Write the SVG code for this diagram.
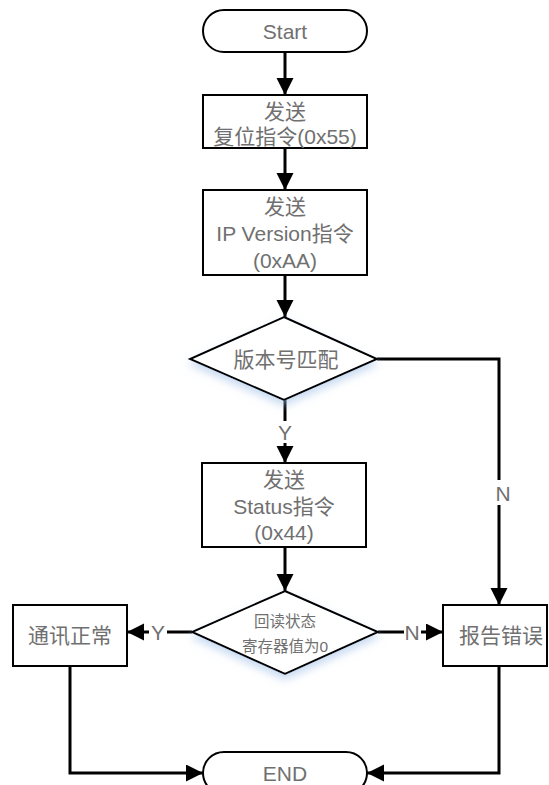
<svg xmlns="http://www.w3.org/2000/svg" width="549" height="785" viewBox="0 0 549 785">
<style>
.s{fill:#fff;stroke:#000;stroke-width:2}
.c{fill:none;stroke:#000;stroke-width:3}
.t{font-family:"Liberation Sans","Noto Sans CJK SC",sans-serif;fill:#707070;text-anchor:middle;dominant-baseline:central;font-size:21px}
.sm{font-size:15.5px}
.lbl{fill:#fff}
</style>
<defs>
<marker id="ah" markerUnits="userSpaceOnUse" markerWidth="18" markerHeight="18" refX="17" refY="8.5" orient="auto">
<path d="M0,0 L17,8.5 L0,17 z" fill="#000"/>
</marker>
<filter id="sh" x="-20%" y="-20%" width="140%" height="150%">
<feGaussianBlur in="SourceAlpha" stdDeviation="4"/>
<feOffset dy="5" result="b"/>
<feFlood flood-color="#9dbde6" flood-opacity="0.55"/>
<feComposite in2="b" operator="in"/>
<feMerge><feMergeNode/><feMergeNode in="SourceGraphic"/></feMerge>
</filter>
</defs>
<g id="connectors">
<path class="c" d="M285,52 V95" marker-end="url(#ah)"/>
<path class="c" d="M285,148 V190" marker-end="url(#ah)"/>
<path class="c" d="M285,275 V317" marker-end="url(#ah)"/>
<path class="c" d="M377,359 H499 V605" marker-end="url(#ah)"/>
<path class="c" d="M285,400 V463" marker-end="url(#ah)"/>
<path class="c" d="M285,547 V591" marker-end="url(#ah)"/>
<path class="c" d="M192,632 H127" marker-end="url(#ah)"/>
<path class="c" d="M378,632 H443" marker-end="url(#ah)"/>
<path class="c" d="M70,666 V773 H203" marker-end="url(#ah)"/>
<path class="c" d="M499,666 V773 H367" marker-end="url(#ah)"/>
<rect class="lbl" x="492" y="480" width="20" height="25"/>
<text class="t" x="503" y="493">N</text>
<rect class="lbl" x="276" y="421" width="19" height="22"/>
<text class="t" x="285" y="432">Y</text>
<rect class="lbl" x="149" y="622" width="18" height="20"/>
<text class="t" x="158" y="632">Y</text>
<rect class="lbl" x="404" y="622" width="17" height="20"/>
<text class="t" x="412" y="632">N</text>
</g>
<g id="start">
<rect class="s" x="203" y="10" width="164" height="42" rx="21"/>
<text class="t" x="285" y="31">Start</text>
</g>
<g id="reset">
<rect class="s" x="203" y="95" width="164" height="53"/>
<text class="t" x="285" y="111">发送</text>
<text class="t" x="285" y="136">复位指令(0x55)</text>
</g>
<g id="ipver">
<rect class="s" x="203" y="190" width="164" height="85"/>
<text class="t" x="285" y="206">发送</text>
<text class="t" x="285" y="233">IP Version指令</text>
<text class="t" x="285" y="260">(0xAA)</text>
</g>
<g id="match">
<polygon class="s" filter="url(#sh)" points="284,317 377,359 284,400 190,359"/>
<text class="t" x="286" y="359">版本号匹配</text>
</g>
<g id="status">
<rect class="s" x="202" y="463" width="164" height="84"/>
<text class="t" x="284" y="479">发送</text>
<text class="t" x="284" y="506">Status指令</text>
<text class="t" x="284" y="532">(0x44)</text>
</g>
<g id="readback">
<polygon class="s" filter="url(#sh)" points="285,591 378,632 285,674 192,632"/>
<text class="t sm" x="285" y="621">回读状态</text>
<text class="t sm" x="285" y="646">寄存器值为0</text>
</g>
<g id="ok">
<rect class="s" x="13" y="605" width="114" height="61"/>
<text class="t" x="70" y="635">通讯正常</text>
</g>
<g id="err">
<rect class="s" x="443" y="605" width="104" height="61"/>
<text class="t" x="501" y="635">报告错误</text>
</g>
<g id="end">
<rect class="s" x="203" y="752" width="164" height="42" rx="21"/>
<text class="t" x="285" y="773">END</text>
</g>
</svg>
